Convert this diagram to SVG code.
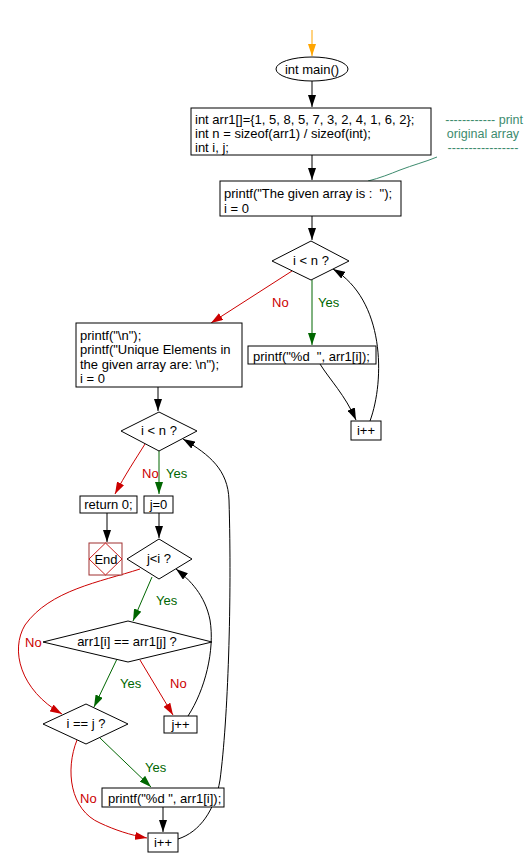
<svg xmlns="http://www.w3.org/2000/svg" width="532" height="868" viewBox="0 0 532 868">
<defs>
<style>
text{font-family:"Liberation Sans",Arial,sans-serif;font-size:13px;fill:#000;white-space:pre}
.c{text-anchor:middle}
.yes{fill:#006600}
.no{fill:#cc0000}
.cm{fill:#3d8b6e;font-size:12.5px}
.box{fill:#fff;stroke:#000;stroke-width:1}
.ln{fill:none;stroke:#000;stroke-width:1}
.g{fill:none;stroke:#006600;stroke-width:1}
.r{fill:none;stroke:#cc0000;stroke-width:1}
.o{fill:none;stroke:#ffa500;stroke-width:1}
</style>
<marker id="ab" viewBox="0 0 12 8" refX="12" refY="4" markerWidth="12" markerHeight="8" orient="auto" markerUnits="userSpaceOnUse"><path d="M0,0 L12,4 L0,8 z" fill="#000"/></marker>
<marker id="ag" viewBox="0 0 12 8" refX="12" refY="4" markerWidth="12" markerHeight="8" orient="auto" markerUnits="userSpaceOnUse"><path d="M0,0 L12,4 L0,8 z" fill="#006600"/></marker>
<marker id="ar" viewBox="0 0 12 8" refX="12" refY="4" markerWidth="12" markerHeight="8" orient="auto" markerUnits="userSpaceOnUse"><path d="M0,0 L12,4 L0,8 z" fill="#cc0000"/></marker>
<marker id="ao" viewBox="0 0 12 8" refX="12" refY="4" markerWidth="12" markerHeight="8" orient="auto" markerUnits="userSpaceOnUse"><path d="M0,0 L12,4 L0,8 z" fill="#ffa500"/></marker>
</defs>
<rect width="532" height="868" fill="#fff"/>
<g id="connectors">
<path class="o" d="M312,30 L312,56" marker-end="url(#ao)"/>
<path class="ln" d="M312,81 L312,107" marker-end="url(#ab)"/>
<path class="ln" d="M312,155 L312,180" marker-end="url(#ab)"/>
<path class="ln" d="M312,216 L312,240" marker-end="url(#ab)"/>
<path class="g" d="M312,280 L312,345" marker-end="url(#ag)"/>
<path class="r" d="M292,271 L211,323" marker-end="url(#ar)"/>
<path class="ln" d="M320,364 C330,380 345,395 356,420" marker-end="url(#ab)"/>
<path class="ln" d="M370,421 C385,380 385,300 333,269" marker-end="url(#ab)"/>
<path class="ln" d="M158,387 L158,411" marker-end="url(#ab)"/>
<path class="g" d="M159,451 L159,494" marker-end="url(#ag)"/>
<path class="r" d="M145,444 C135,460 125,475 115,494" marker-end="url(#ar)"/>
<path class="ln" d="M107,513 L107,542" marker-end="url(#ab)"/>
<path class="ln" d="M159,513 L159,538" marker-end="url(#ab)"/>
<path class="g" d="M152,577 L133,621" marker-end="url(#ag)"/>
<path class="r" d="M140,569 C100,582 50,590 25,625 C10,650 20,690 62,714" marker-end="url(#ar)"/>
<path class="g" d="M117,659 L94,707" marker-end="url(#ag)"/>
<path class="r" d="M140,660 L173,715" marker-end="url(#ar)"/>
<path class="ln" d="M188,716 C205,690 215,650 210,620 C205,595 190,580 176,569" marker-end="url(#ab)"/>
<path class="g" d="M100,738 L151,787" marker-end="url(#ag)"/>
<path class="ln" d="M163,807 L163,832" marker-end="url(#ab)"/>
<path class="r" d="M77,740 C65,770 70,810 100,823 C115,830 130,835 147,838" marker-end="url(#ar)"/>
<path class="ln" d="M178,839 C200,832 215,810 220,780 C228,720 232,600 229,500 C228,470 210,455 183,439" marker-end="url(#ab)"/>
<path fill="none" stroke="#3d8b6e" d="M437,157 C425,162 413,165 400,170 C390,174 380,178 368,181"/>
</g>
<g id="start"><ellipse cx="312" cy="69" rx="36" ry="12" class="box"/><text x="312" y="73.5" class="c">int main()</text></g>
<g id="init"><rect x="191" y="108" width="240" height="47" class="box"/>
<text x="195" y="124">int arr1[]={1, 5, 8, 5, 7, 3, 2, 4, 1, 6, 2};</text>
<text x="195" y="138">int n = sizeof(arr1) / sizeof(int);</text>
<text x="195" y="152">int i, j;</text></g>
<g id="comment"><text x="523" y="124" class="cm" style="text-anchor:end">------------ print</text>
<text x="483" y="138" class="cm c">original array</text>
<text x="483" y="152" class="cm c">-----------------</text></g>
<g id="print1"><rect x="220" y="181" width="181" height="35" class="box"/>
<text x="224" y="198">printf("The given array is :  ");</text>
<text x="224" y="213">i = 0</text></g>
<g id="cond1"><polygon points="311,241 349,261 311,280 272,261" class="box"/><text x="311" y="265" class="c">i &lt; n ?</text></g>
<text x="272" y="307" class="no">No</text>
<text x="318" y="307" class="yes">Yes</text>
<g id="print2"><rect x="248" y="346" width="128" height="18" class="box"/><text x="253" y="361">printf("%d  ", arr1[i]);</text></g>
<g id="inc1"><rect x="351" y="421" width="30" height="19" class="box"/><text x="366" y="435" class="c">i++</text></g>
<g id="print3"><rect x="76" y="323" width="166" height="64" class="box"/>
<text x="80" y="340">printf("\n");</text>
<text x="80" y="354">printf("Unique Elements in</text>
<text x="80" y="369">the given array are: \n");</text>
<text x="80" y="383">i = 0</text></g>
<g id="cond2"><polygon points="159,412 197,431 159,451 121,431" class="box"/><text x="159" y="435" class="c">i &lt; n ?</text></g>
<text x="142" y="478" class="no">No</text>
<text x="166" y="478" class="yes">Yes</text>
<g id="ret"><rect x="80" y="496" width="57" height="17" class="box"/><text x="108.5" y="509" class="c">return 0;</text></g>
<g id="end"><rect x="89" y="543" width="33" height="32" fill="#fff" stroke="#a03030"/><polygon points="105.5,543 122,559 105.5,575 89,559" fill="none" stroke="#cc2020"/><text x="106" y="564" class="c">End</text></g>
<g id="j0"><rect x="144" y="496" width="29" height="17" class="box"/><text x="158.5" y="509" class="c">j=0</text></g>
<g id="cond3"><polygon points="159,539 192,559 159,579 127,559" class="box"/><text x="159" y="563" class="c">j&lt;i ?</text></g>
<text x="156" y="605" class="yes">Yes</text>
<g id="cond4"><polygon points="128,621 212,642 128,662 43,642" class="box"/><text x="127" y="646" class="c">arr1[i] == arr1[j] ?</text></g>
<text x="25" y="647" class="no">No</text>
<text x="120" y="688" class="yes">Yes</text>
<text x="170" y="688" class="no">No</text>
<g id="jinc"><rect x="164" y="716" width="33" height="17" class="box"/><text x="180.5" y="729" class="c">j++</text></g>
<g id="cond5"><polygon points="86,704 128,724 86,744 43,724" class="box"/><text x="86" y="728" class="c">i == j ?</text></g>
<text x="145" y="772" class="yes">Yes</text>
<text x="80" y="803" class="no">No</text>
<g id="print4"><rect x="102" y="788" width="122" height="19" class="box"/><text x="108" y="803">printf("%d ", arr1[i]);</text></g>
<g id="inc2"><rect x="148" y="833" width="30" height="19" class="box"/><text x="163" y="847" class="c">i++</text></g>
</svg>
